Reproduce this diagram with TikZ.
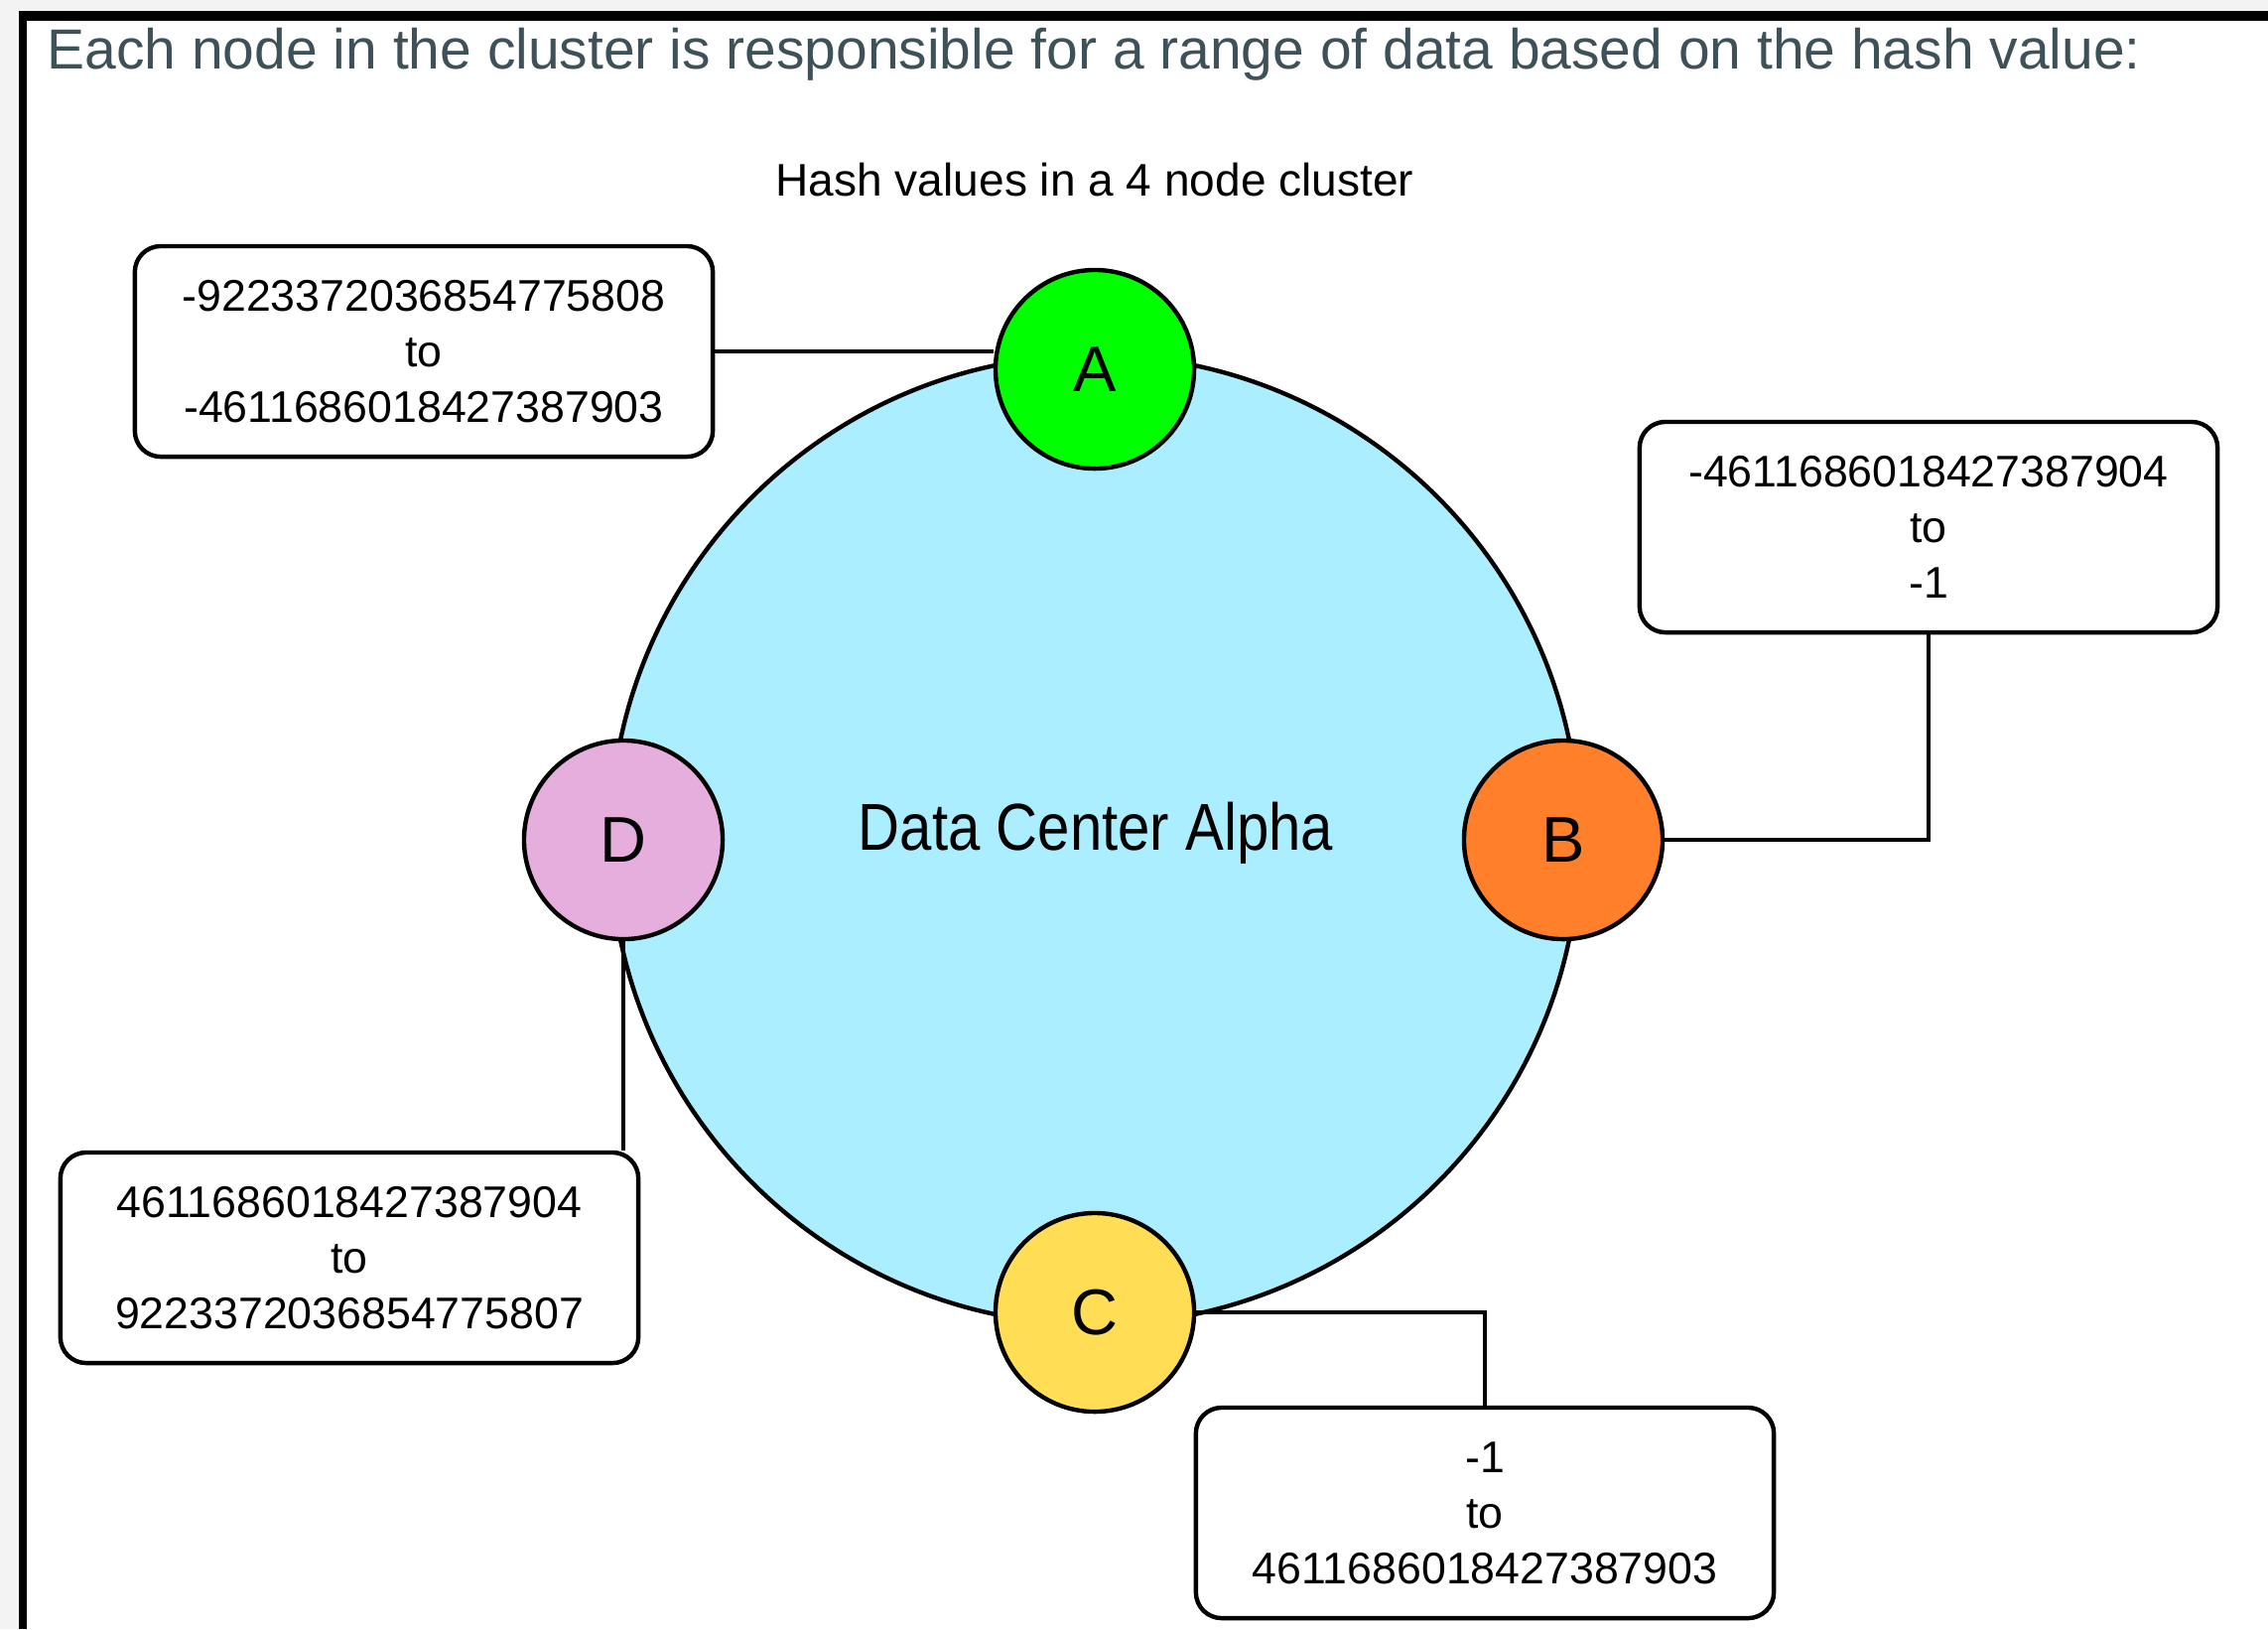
\documentclass[tikz,border=0pt]{standalone}
\usepackage{fontspec}
\setmainfont{Liberation Sans}
\usepackage{xcolor}
\usepackage{graphicx}
\usetikzlibrary{positioning}

\definecolor{ringblue}{HTML}{AAEEFF}
\definecolor{nodeA}{HTML}{00FF00}
\definecolor{nodeB}{HTML}{FF7F2A}
\definecolor{nodeC}{HTML}{FFDD55}
\definecolor{nodeD}{HTML}{E5AEDC}
\definecolor{slate}{HTML}{3E5159}
\definecolor{edgegray}{HTML}{F3F3F3}

\begin{document}
\begin{tikzpicture}[x=0.01cm, y=-0.01cm,
      vtx/.style={circle, draw, line width=1.25pt, minimum size=2cm, inner sep=0pt,
                  font=\fontsize{18.5}{20}\selectfont},
      rng/.style={draw, line width=1.25pt, rounded corners=0.26cm, fill=white,
                  minimum width=5.82cm, minimum height=2.12cm, align=center,
                  font=\fontsize{12.7}{15.9}\selectfont},
      link/.style={line width=1.25pt}]
    \useasboundingbox (0,0) rectangle (2285,1641);
    % page frame
    \fill[edgegray] (0,0) rectangle (2285,11);
    \fill[edgegray] (0,0) rectangle (19,1641);
    \fill (19,11) rectangle (2285,21);
    \fill (19,11) rectangle (27,1641);

    \node[anchor=base west, inner sep=0pt, text=slate, font=\fontsize{16.2}{18}\selectfont] (intro) at (47,69)
      {Each node in the cluster is responsible for a range of data based on the hash value:};
    \node[anchor=base, inner sep=0pt, font=\fontsize{13.1}{15}\selectfont] (caption) at (1103,197)
      {Hash values in a 4 node cluster};

    % the ring
    \node[circle, draw, line width=1.25pt, fill=ringblue, minimum size=9.76cm, inner sep=0pt] (dc) at (1103,846) {};
    \node[anchor=base, font=\fontsize{19}{21}\selectfont] (dcname) at (1104,856)
      {\scalebox{0.87}[1]{Data Center Alpha}};

    \node[vtx,fill=nodeA] (nA) at (1103,372)  {A};
    \node[vtx,fill=nodeB] (nB) at (1575,846)  {B};
    \node[vtx,fill=nodeC] (nC) at (1103,1322) {C};
    \node[vtx,fill=nodeD] (nD) at (628,846)   {D};

    % token ranges
    \node[rng] (rA) at (427,354)   {-9223372036854775808\\to\\-4611686018427387903};
    \node[rng] (rB) at (1943,531)  {-4611686018427387904\\to\\-1};
    \node[rng] (rC) at (1496,1524) {-1\\to\\4611686018427387903};
    \node[rng] (rD) at (352,1267)  {4611686018427387904\\to\\9223372036854775807};

    \draw[link] (rA.east) -- (rA.east -| nA.west);
    \draw[link] (nB.east) -| (rB.south);
    \draw[link] (nC.east) -| (rC.north);
    \draw[link] (nD.south) -- (nD.south |- rD.north);
  \end{tikzpicture}
\end{document}
